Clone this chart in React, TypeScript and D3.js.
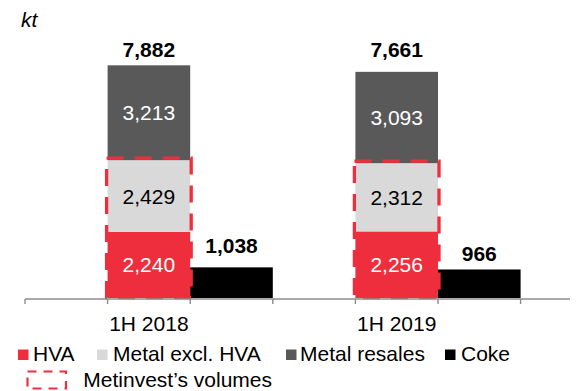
import React from "react";
import * as d3 from "d3";

// Sales volumes by half-year, kt
const periods = ["1H 2018", "1H 2019"];
const hva = [2240, 2256];
const metalExclHva = [2429, 2312];
const metalResales = [3213, 3093];
const coke = [1038, 966];
const totals = [7882, 7661];

const seriesKeys = ["hva", "metalExclHva", "metalResales"];
const seriesNames = ["HVA", "Metal excl. HVA", "Metal resales", "Coke"];
const seriesColors = ["#EE2E3C", "#D9D9D9", "#595959", "#000000"];
const innerLabelColors = ["#FFFFFF", "#000000", "#FFFFFF"];
const boxLabel = "Metinvest\u2019s volumes";
const unitLabel = "kt";

const W = 583;
const H = 391;
const FONT = "'Liberation Sans', Arial, sans-serif";
const RED = seriesColors[0];

// small vertical nudges for the bold value labels (px, upwards)
const totalLabelGap = [8, 14.4];
const cokeLabelGap = [14.4, 8];

// legend layout
const legendRow1 = [
  { sx: 18, tx: 33 },
  { sx: 97, tx: 113 },
  { sx: 286, tx: 300 },
  { sx: 445, tx: 461 },
];

export default function App() {
  const axisY = 299;
  const x = d3.scaleBand<string>().domain(periods).range([25, 520.6]).padding(0);
  const sub = d3
    .scaleBand<string>()
    .domain(["gap", "metal", "coke"])
    .range([0, x.bandwidth()])
    .padding(0);
  const y = d3.scaleLinear().domain([0, 9000]).range([298, 298 - 9000 * 0.02952]);

  const rows = periods.map((p, i) => ({
    period: p,
    hva: hva[i],
    metalExclHva: metalExclHva[i],
    metalResales: metalResales[i],
  }));
  const stacked = d3.stack<any>().keys(seriesKeys)(rows);

  const tickXs: number[] = [];
  periods.forEach((p) => {
    sub.domain().forEach((s) => tickXs.push((x(p) as number) + (sub(s) as number)));
  });
  tickXs.push((x(periods[periods.length - 1]) as number) + x.bandwidth());

  const bw = sub.bandwidth();

  return (
    <svg width={W} height={H} style={{ position: "absolute", left: 0, top: 0 }} fontFamily={FONT}>
      <text x={21} y={26.7} fontSize={21} fontStyle="italic" fill="#000">
        {unitLabel}
      </text>

      {/* stacked metal bars */}
      {stacked.map((layer, si) =>
        layer.map((d, i) => {
          const bx = (x(periods[i]) as number) + (sub("metal") as number);
          const y0 = y(d[0]);
          const y1 = y(d[1]);
          const v = d[1] - d[0];
          return (
            <g key={`${si}-${i}`}>
              <rect x={bx} y={y1} width={bw} height={y0 - y1} fill={seriesColors[si]} />
              <text
                x={bx + bw / 2}
                y={(y0 + y1) / 2}
                dy="0.36em"
                textAnchor="middle"
                fontSize={21}
                fill={innerLabelColors[si]}
              >
                {d3.format(",")(v)}
              </text>
            </g>
          );
        })
      )}

      {/* coke bars */}
      {periods.map((p, i) => {
        const bx = (x(p) as number) + (sub("coke") as number);
        return (
          <g key={`coke-${p}`}>
            <rect x={bx} y={y(coke[i])} width={bw} height={y(0) - y(coke[i])} fill={seriesColors[3]} />
            <text
              x={bx + bw / 2}
              y={y(coke[i]) - cokeLabelGap[i]}
              textAnchor="middle"
              fontSize={21}
              fontWeight="bold"
              fill="#000"
            >
              {d3.format(",")(coke[i])}
            </text>
          </g>
        );
      })}

      {/* totals above metal stacks */}
      {periods.map((p, i) => {
        const bx = (x(p) as number) + (sub("metal") as number);
        return (
          <text
            key={`tot-${p}`}
            x={bx + bw / 2}
            y={y(totals[i]) - totalLabelGap[i]}
            textAnchor="middle"
            fontSize={21}
            fontWeight="bold"
            fill="#000"
          >
            {d3.format(",")(totals[i])}
          </text>
        );
      })}

      {/* dashed outline around Metinvest's own volumes */}
      {periods.map((p, i) => {
        const bx = (x(p) as number) + (sub("metal") as number);
        const top = y(hva[i] + metalExclHva[i]);
        return (
          <rect
            key={`box-${p}`}
            x={bx - 1}
            y={top - 2}
            width={bw + 2}
            height={y(0) - top + 1.5}
            fill="none"
            stroke={RED}
            strokeWidth={3.3}
            strokeDasharray="17 11"
          />
        );
      })}

      {/* category axis */}
      <line x1={25} x2={570} y1={axisY} y2={axisY} stroke="#8C8C8C" strokeWidth={1.4} />
      {tickXs.map((tx, i) => (
        <line key={`t-${i}`} x1={tx} x2={tx} y1={axisY} y2={axisY + 5} stroke="#8C8C8C" strokeWidth={1.4} />
      ))}
      {periods.map((p) => (
        <text
          key={`lab-${p}`}
          x={(x(p) as number) + (sub("metal") as number) + bw / 2}
          y={330.7}
          textAnchor="middle"
          fontSize={21}
          fill="#000"
        >
          {p}
        </text>
      ))}

      {/* legend */}
      {seriesNames.map((name, i) => (
        <g key={`lg-${name}`}>
          <rect x={legendRow1[i].sx} y={349.5} width={10.5} height={10.5} fill={seriesColors[i]} />
          <text x={legendRow1[i].tx} y={361} fontSize={21} fill="#000">
            {name}
          </text>
        </g>
      ))}
      <rect
        x={27.5}
        y={371.5}
        width={38.5}
        height={17}
        fill="none"
        stroke={RED}
        strokeWidth={2.2}
        strokeDasharray="9 7"
      />
      <text x={83.3} y={387} fontSize={21} fill="#000">
        {boxLabel}
      </text>
    </svg>
  );
}
